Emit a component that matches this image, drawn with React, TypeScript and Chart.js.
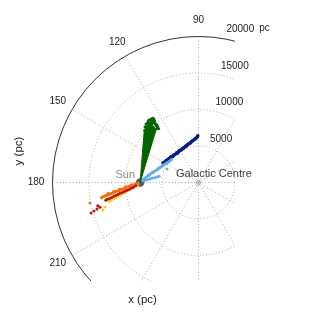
import React, { useEffect, useRef } from "react";
import { Chart, registerables } from "chart.js";
Chart.register(...registerables);

const FONT = '"Liberation Sans", Arial, Helvetica, sans-serif';

// polar grid (galactocentric, pc)
const angleTicks = [90, 120, 150, 180, 210];
const gridAngles = [0, 30, 60, 90, 120, 150, 180, 210, 240, 270, 300, 330];
const radiusTicks = [5000, 10000, 15000, 20000];
const rMax = 20000;
const angleLabelRadius = 22250;
const xLimits = [-20000, 5000];
const yLimits = [-13500, 20000];
const sunX = [-8000];
const sunY = [0];

// green: dense core (outline) + scattered points
const greenCoreX = [-8000, -7450, -7200, -6750, -6200, -5800, -8000];
const greenCoreY = [0, 6900, 7550, 7900, 7750, 7250, 0];
const greenX = [-7190, -7060, -6780, -6645, -6500, -6370, -6234, -5960, -5823, -5686, -5549, -6900, -6100, -7330, -5700, -6650, -6400, -6200, -5900, -7200, -6550, -6000, -7400, -5600, -6850, -6300, -5450, -7000];
const greenY = [7330, 7740, 8015, 8560, 8290, 8425, 8150, 8150, 7740, 7877, 7603, 8290, 8700, 7600, 7330, 8050, 7950, 8400, 7950, 8000, 8650, 8450, 7100, 7450, 8500, 8800, 7350, 8150];

const darkBlueX = [-4864, -4700, -4500, -4400, -4300, -4100, -4000, -3950, -3850, -3750, -3600, -3500, -3400, -3200, -3000, -2900, -2800, -2700, -2600, -2400, -2300, -2200, -2050, -2000, -1800, -1700, -1600, -1500, -1400, -1200, -1100, -1000, -900, -800, -600, -500, -400, -250, -150, -100];
const darkBlueY = [2672, 2750, 2950, 3000, 3050, 3250, 3150, 3300, 3450, 3500, 3600, 3550, 3750, 3850, 4050, 4000, 4150, 4300, 4350, 4450, 4500, 4650, 4700, 4750, 4950, 4950, 5050, 5200, 5250, 5350, 5450, 5550, 5650, 5700, 5850, 5950, 6000, 6150, 6250, 6400];

const lightBlueX = [-7700, -7500, -7300, -7100, -6900, -6800, -6700, -6500, -6300, -6200, -6100, -5900, -5700, -5600, -5500, -5300, -5100, -5000, -4900, -4700, -4500, -4400, -4300, -4100, -3900, -3700, -7500, -7200, -6900, -6600, -6300, -6000, -5700, -5400, -4316];
const lightBlueY = [300, 500, 650, 800, 950, 950, 1100, 1250, 1350, 1400, 1500, 1650, 1750, 1800, 1900, 2050, 2150, 2250, 2300, 2450, 2550, 2650, 2700, 2850, 2950, 3150, 250, 350, 400, 500, 600, 650, 750, 850, 1850];

const orangeX = [-8288, -8500, -8700, -8900, -9100, -9200, -9300, -9500, -9700, -9900, -10000, -10100, -10300, -10500, -10700, -10800, -10900, -11100, -11300, -11500, -11600, -11700, -11900, -12100, -12300, -12400, -12500, -12700, -12900, -13100, -13300, -14865];
const orangeY = [-68, -150, -250, -300, -400, -300, -450, -550, -600, -700, -600, -800, -850, -950, -1000, -900, -1100, -1150, -1250, -1350, -1200, -1400, -1500, -1550, -1650, -1500, -1750, -1800, -1900, -1950, -2100, -2808];

const redX = [-8600, -8900, -9200, -9500, -9800, -10100, -10400, -10700, -11000, -11300, -11600, -11900, -12200, -12500, -12700, -13500, -13800, -13905, -14316, -14727];
const redY = [-450, -650, -800, -950, -1050, -1200, -1350, -1450, -1600, -1750, -1900, -2050, -2200, -2300, -2450, -3400, -3200, -3631, -3905, -4180];

const yellowX = [-8300, -8600, -8900, -9200, -9500, -9800, -10100, -10400, -10700, -11000, -11300, -11600, -11900, -12200, -12810, -13084];
const yellowY = [-200, -400, -600, -800, -1000, -1150, -1350, -1500, -1700, -1850, -2050, -2200, -2400, -2600, -3357, -3768];

const pts = (xs: number[], ys: number[]) => xs.map((x, i) => ({ x, y: ys[i] }));

const polarGrid = {
  id: "polarGrid",
  beforeDatasetsDraw(chart: any) {
    const { ctx, chartArea: a, scales } = chart;
    const xs = scales.x, ys = scales.y;
    const cx = xs.getPixelForValue(0), cy = ys.getPixelForValue(0);
    const rp = (r: number) => xs.getPixelForValue(r) - cx;
    ctx.save();
    ctx.beginPath();
    ctx.rect(0, 0, a.right, a.bottom);
    ctx.clip();
    ctx.strokeStyle = "#aaaaaa";
    ctx.lineWidth = 1;
    ctx.setLineDash([1, 2.2]);
    radiusTicks.filter((r) => r < rMax).forEach((r) => {
      ctx.beginPath();
      ctx.arc(cx, cy, rp(r), 0, Math.PI * 2);
      ctx.stroke();
    });
    gridAngles.forEach((t) => {
      const th = (t * Math.PI) / 180;
      ctx.beginPath();
      ctx.moveTo(cx, cy);
      ctx.lineTo(cx + rp(rMax) * Math.cos(th), cy - rp(rMax) * Math.sin(th));
      ctx.stroke();
    });
    ctx.setLineDash([]);
    ctx.strokeStyle = "#333";
    ctx.beginPath();
    ctx.arc(cx, cy, rp(rMax), 0, Math.PI * 2);
    ctx.stroke();
    ctx.restore();
  },
  afterDatasetsDraw(chart: any) {
    const { ctx, scales } = chart;
    const xs = scales.x, ys = scales.y;
    const cx = xs.getPixelForValue(0), cy = ys.getPixelForValue(0);
    const rp = (r: number) => xs.getPixelForValue(r) - cx;
    ctx.save();
    // GC marker
    ctx.strokeStyle = "#999";
    ctx.lineWidth = 1;
    ctx.beginPath();
    ctx.arc(cx, cy, 2, 0, Math.PI * 2);
    ctx.stroke();
    ctx.textBaseline = "middle";
    // angle labels
    ctx.fillStyle = "#222";
    ctx.font = `10px ${FONT}`;
    ctx.textAlign = "center";
    angleTicks.forEach((t) => {
      const th = (t * Math.PI) / 180;
      const r = rp(angleLabelRadius);
      ctx.fillText(String(t), cx + r * Math.cos(th), cy - r * Math.sin(th));
    });
    // radius labels
    ctx.textAlign = "left";
    radiusTicks.forEach((r) => {
      const p = rp(r);
      const lx = cx + 6 + 0.15 * p;
      const ly = cy - p - 7;
      ctx.fillText(String(r), lx, ly);
      if (r === rMax) {
        const w = ctx.measureText(String(r)).width;
        ctx.fillText("pc", lx + w + 5, ly - 1);
      }
    });
    // Sun / Galactic Centre labels
    const sx = xs.getPixelForValue(sunX[0]), sy = ys.getPixelForValue(sunY[0]);
    ctx.font = `11px ${FONT}`;
    ctx.fillStyle = "#8a8a8a";
    ctx.textAlign = "right";
    ctx.fillText("Sun", sx - 5, sy - 8);
    ctx.fillStyle = "#3c3c3c";
    ctx.textAlign = "left";
    ctx.fillText("Galactic Centre", cx - 22.5, cy - 8.5);
    // axis titles
    ctx.fillStyle = "#222";
    ctx.font = `11.5px ${FONT}`;
    ctx.textAlign = "center";
    ctx.fillText("x (pc)", 142.5, 300);
    ctx.translate(19, 151);
    ctx.rotate(-Math.PI / 2);
    ctx.fillText("y (pc)", 0, 0);
    ctx.restore();
  },
};

export default function App() {
  const ref = useRef<HTMLCanvasElement>(null);
  useEffect(() => {
    if (!ref.current) return;
    const small = (data: any[], color: string, r = 1.3) => ({
      type: "scatter",
      data,
      backgroundColor: color,
      borderColor: color,
      pointRadius: r,
      pointBorderWidth: 0,
      showLine: false,
    });
    const chart = new Chart(ref.current, {
      type: "scatter",
      data: {
        datasets: [
          {
            type: "line",
            data: pts(greenCoreX, greenCoreY),
            backgroundColor: "#006400",
            borderColor: "#006400",
            borderWidth: 1,
            pointRadius: 0,
            fill: "shape",
            tension: 0,
          } as any,
          small(pts(greenX, greenY), "#006400", 1.4),
          small(pts(lightBlueX, lightBlueY), "#5aaef2", 1.5),
          small(pts(darkBlueX, darkBlueY), "#0a1a96", 1.8),
          small(pts(redX, redY), "#c40f0f", 1.5),
          small(pts(orangeX, orangeY), "#ff6a00", 1.5),
          small(pts(yellowX, yellowY), "#ffcc00", 1.5),
          small(pts(sunX, sunY), "#5a5a5a", 4.3),
        ] as any,
      },
      options: {
        animation: false,
        responsive: false,
        events: [],
        layout: { padding: { left: 52.5, right: 77, top: 36.5, bottom: 34 } },
        plugins: { legend: { display: false }, tooltip: { enabled: false } },
        scales: {
          x: { type: "linear", display: false, min: xLimits[0], max: xLimits[1] },
          y: { type: "linear", display: false, min: yLimits[0], max: yLimits[1] },
        },
      } as any,
      plugins: [polarGrid],
    });
    return () => chart.destroy();
  }, []);
  return (
    <div style={{ position: "absolute", left: 0, top: 0, width: 312, height: 315, background: "#fff" }}>
      <canvas ref={ref} width={312} height={315} style={{ display: "block" }} />
    </div>
  );
}
